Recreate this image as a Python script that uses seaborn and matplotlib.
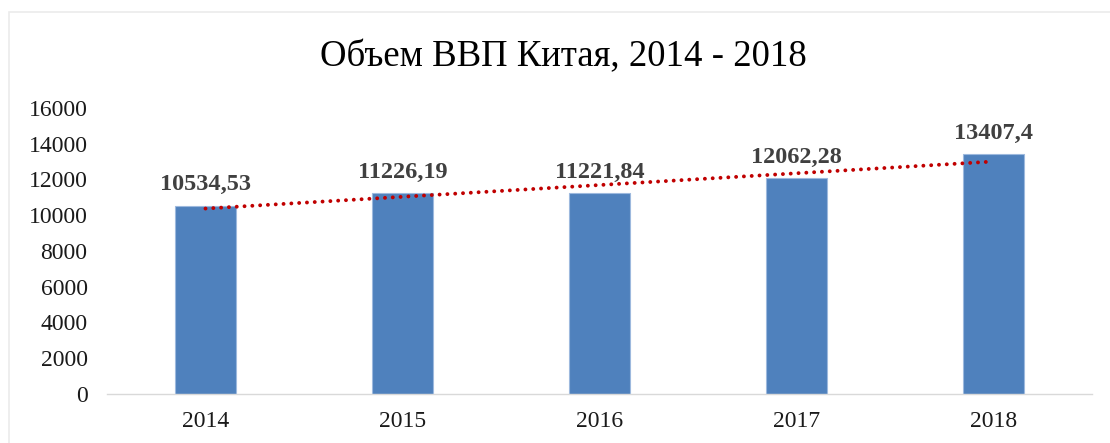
import matplotlib
matplotlib.use("Agg")
import matplotlib.pyplot as plt
import matplotlib.patches as patches
import numpy as np
import pandas as pd
import seaborn as sns

# Данные: объем ВВП Китая
years = ["2014", "2015", "2016", "2017", "2018"]
gdp = [10534.53, 11226.19, 11221.84, 12062.28, 13407.4]
value_labels = ["10534,53", "11226,19", "11221,84", "12062,28", "13407,4"]
y_ticks = [0, 2000, 4000, 6000, 8000, 10000, 12000, 14000, 16000]

df = pd.DataFrame({"year": years, "gdp": gdp})

sns.set_theme(style="white")
plt.rcParams["font.family"] = ["Liberation Serif", "DejaVu Serif"]

W, H = 1110, 443
fig = plt.figure(figsize=(W / 100, H / 100), dpi=100)
fig.patch.set_facecolor("white")

# тонкая рамка области диаграммы
fig.patches.append(patches.Rectangle((9 / W, -0.1), 1.2, 1 - 12 / H + 0.1,
                                     transform=fig.transFigure, fill=False,
                                     edgecolor="#EBEBEB", linewidth=1.2))

ax = fig.add_axes([107 / W, 1 - 394 / H, (1092 - 107) / W, 286 / H])
sns.barplot(data=df, x="year", y="gdp", color="#4F81BD", saturation=1,
            width=0.31, edgecolor="#9DB9DE", linewidth=0.8, ax=ax)

# линейный тренд
xs = np.arange(len(gdp))
k, b = np.polyfit(xs, gdp, 1)
ax.plot(xs, k * xs + b, color="#C00000", linewidth=2.8,
        linestyle=(0, (0.01, 2.0)), dash_capstyle="round", zorder=3)

# подписи значений
for i, (v, lbl) in enumerate(zip(gdp, value_labels)):
    ax.annotate(lbl, (i, v), xytext=(0, 11), textcoords="offset points",
                ha="center", va="baseline", fontsize=17.5, fontweight="bold",
                color="#404040")

ax.set_ylim(0, 16000)
ax.set_xlim(-0.5, len(years) - 0.5)
ax.set_yticks(y_ticks)
ax.set_yticklabels([str(t) for t in y_ticks])
ax.set_xlabel("")
ax.set_ylabel("")
ax.tick_params(axis="y", length=0, pad=14, labelsize=17, labelcolor="#1a1a1a")
ax.tick_params(axis="x", length=0, pad=12, labelsize=17, labelcolor="#1a1a1a")
for s in ["top", "right", "left"]:
    ax.spines[s].set_visible(False)
ax.spines["bottom"].set_color("#D9D9D9")
ax.spines["bottom"].set_linewidth(1)

fig.text(563 / W, 1 - 57 / H, "Объем ВВП Китая, 2014 - 2018", ha="center",
         va="center", fontsize=26.5, color="#000000")

fig.savefig("out.png", dpi=100)
